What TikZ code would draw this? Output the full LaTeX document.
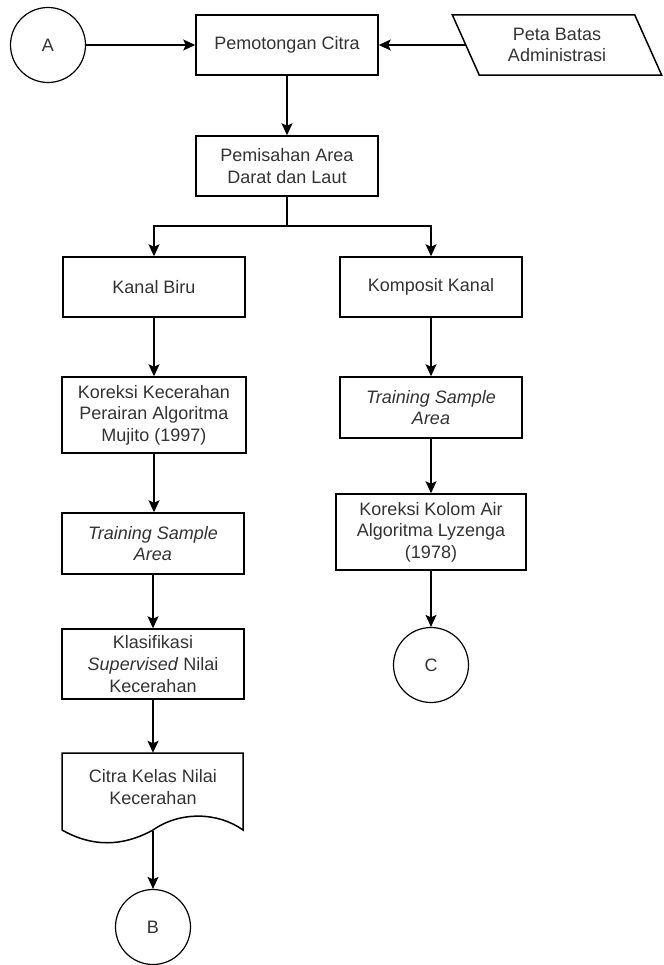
\documentclass[tikz,border=0pt]{standalone}
\usepackage{fontspec}
\setmainfont{Liberation Sans}
\usetikzlibrary{arrows.meta}
\begin{document}
\begin{tikzpicture}[x=1pt, y=-1pt,
  every node/.style={font=\fontsize{18}{21.6}\selectfont, text=black!80, align=center, inner sep=0pt},
  proc/.style={draw, line width=1.5pt, minimum width=182pt, minimum height=61pt},
  conn/.style={draw, circle, line width=1.2pt, minimum size=75pt},
  flow/.style={line width=1.5pt, -{Stealth[length=12pt, width=11pt, inset=2.5pt]}},
  line/.style={line width=1.5pt}]
\useasboundingbox (0,0) rectangle (663,965);

% top row: connector A, clipping step, administrative boundary input
\node[conn] (A) at (48,45) {A};
\node[proc, minimum height=60pt] (cut) at (287,45) {Pemotongan Citra};
\node[minimum width=182pt, minimum height=60pt] (peta) at (557,45) {Peta Batas\\Administrasi};
\draw[line width=1.5pt] ([xshift=13.5pt]peta.south west) -- ([xshift=13.5pt]peta.south east)
  -- ([xshift=-13.5pt]peta.north east) -- ([xshift=-13.5pt]peta.north west) -- cycle;

\node[proc, minimum height=60pt] (sep) at (287,166) {Pemisahan Area\\Darat dan Laut};
\coordinate (split) at (287,226);

% left branch
\node[proc, minimum height=60pt] (kanal) at (154,287) {Kanal Biru};
\node[proc, minimum width=184pt, minimum height=76pt] (kor1) at (154,415) {Koreksi Kecerahan\\Perairan Algoritma\\Mujito (1997)};
\node[proc] (ts1) at (153,543.5) {\itshape Training Sample\\\itshape Area};
\node[proc, minimum height=70pt] (klas) at (153,664) {Klasifikasi\\\textit{Supervised} Nilai\\Kecerahan};
\node[minimum width=181pt, minimum height=68pt] (doc) at (153,787) {Citra Kelas Nilai\\Kecerahan};
\draw[line width=1.5pt] (62,830) -- (62,753) -- (243,753) -- (243,830)
  .. controls (218,812) and (180,811) .. (153,830)
  .. controls (122,847) and (92,847) .. (62,830);
\coordinate (docout) at (153,831);
\node[conn] (B) at (153,927) {B};

% right branch
\node[proc, minimum height=60pt] (komp) at (431,287) {Komposit Kanal};
\node[proc] (ts2) at (431,407.5) {\itshape Training Sample\\\itshape Area};
\node[proc, minimum width=190pt, minimum height=76pt] (kolom) at (431,532) {Koreksi Kolom Air\\Algoritma Lyzenga\\(1978)};
\node[conn] (C) at (431,665) {C};

% connectors
\draw[flow] (A) -- (cut);
\draw[flow] (peta.west) -- (cut.east);
\draw[flow] (cut) -- (sep);
\draw[line] (sep.south) -- (split);
\draw[flow] (split) -| (kanal.north);
\draw[flow] (split) -| (komp.north);
\draw[flow] (kanal.south) -- (kanal.south |- kor1.north);
\draw[flow] (kor1.south) -- (kor1.south |- ts1.north);
\draw[flow] (ts1) -- (klas);
\draw[flow] (klas.south) -- (doc.north);
\draw[flow] (docout) -- (B);
\draw[flow] (komp) -- (ts2);
\draw[flow] (ts2) -- (kolom);
\draw[flow] (kolom) -- (C);
\end{tikzpicture}
\end{document}
